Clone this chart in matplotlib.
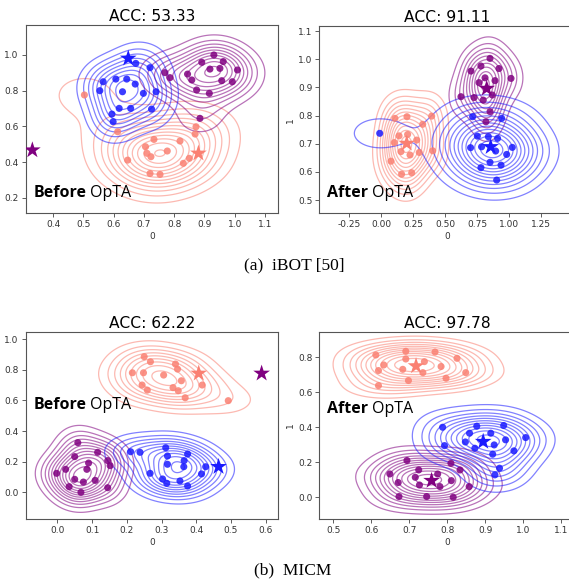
import numpy as np
import matplotlib
matplotlib.use('Agg')
import matplotlib.pyplot as plt
from matplotlib.ticker import MaxNLocator

BLUE = '#1a1aff'
PURPLE = '#800080'
SALMON = '#fa8072'

# ---- (a) iBOT, before OpTA ----
a_before_blue_x = [0.673, 0.565, 0.607, 0.643, 0.671, 0.720, 0.740, 0.698, 0.629, 0.554, 0.618, 0.656, 0.725, 0.594, 0.598]
a_before_blue_y = [0.953, 0.850, 0.865, 0.865, 0.837, 0.929, 0.794, 0.785, 0.794, 0.800, 0.701, 0.701, 0.697, 0.669, 0.626]
a_before_purple_x = [0.931, 0.891, 0.962, 0.918, 0.951, 1.009, 0.769, 0.786, 0.844, 0.858, 0.957, 0.992, 0.874, 0.916, 0.885]
a_before_purple_y = [1.000, 0.959, 0.963, 0.921, 0.925, 0.916, 0.901, 0.873, 0.893, 0.860, 0.856, 0.850, 0.804, 0.785, 0.645]
a_before_salmon_x = [0.503, 0.613, 0.872, 0.869, 0.733, 0.705, 0.819, 0.710, 0.723, 0.777, 0.850, 0.830, 0.646, 0.720, 0.753]
a_before_salmon_y = [0.776, 0.570, 0.598, 0.557, 0.527, 0.486, 0.518, 0.449, 0.430, 0.462, 0.421, 0.393, 0.411, 0.336, 0.331]
a_before_stars = {BLUE: (0.648, 0.981), PURPLE: (0.331, 0.467), SALMON: (0.880, 0.449)}

# ---- (a) iBOT, after OpTA ----
a_after_blue_x = [-0.010, 0.716, 0.943, 0.753, 0.839, 0.911, 0.700, 0.786, 0.896, 0.982, 1.026, 0.781, 0.852, 0.938, 0.904]
a_after_blue_y = [0.737, 0.796, 0.790, 0.727, 0.725, 0.719, 0.686, 0.689, 0.674, 0.662, 0.687, 0.615, 0.634, 0.624, 0.571]
a_after_purple_x = [0.852, 0.781, 0.703, 0.922, 1.016, 0.813, 0.766, 0.891, 0.625, 0.727, 0.799, 0.870, 0.852, 0.820, 0.826]
a_after_purple_y = [1.003, 0.976, 0.958, 0.967, 0.932, 0.934, 0.917, 0.924, 0.867, 0.864, 0.855, 0.873, 0.814, 0.778, 0.896]
a_after_salmon_x = [0.109, 0.203, 0.396, 0.326, 0.141, 0.208, 0.104, 0.279, 0.156, 0.227, 0.299, 0.404, 0.078, 0.161, 0.240]
a_after_salmon_y = [0.790, 0.796, 0.798, 0.769, 0.728, 0.733, 0.704, 0.713, 0.672, 0.660, 0.669, 0.675, 0.638, 0.592, 0.597]
a_after_stars = {BLUE: (0.857, 0.689), PURPLE: (0.826, 0.896), SALMON: (0.201, 0.701)}

# ---- (b) MICM, before OpTA ----
b_before_salmon_x = [0.250, 0.268, 0.216, 0.248, 0.340, 0.346, 0.306, 0.357, 0.244, 0.259, 0.333, 0.348, 0.368, 0.417, 0.492]
b_before_salmon_y = [0.885, 0.852, 0.780, 0.780, 0.837, 0.804, 0.765, 0.728, 0.700, 0.667, 0.683, 0.663, 0.617, 0.700, 0.598]
b_before_purple_x = [0.059, 0.050, 0.116, 0.090, 0.145, 0.152, -0.002, 0.024, 0.050, 0.075, 0.109, 0.034, 0.068, 0.145, 0.085]
b_before_purple_y = [0.324, 0.233, 0.261, 0.191, 0.207, 0.174, 0.124, 0.150, 0.085, 0.067, 0.078, 0.037, 0.000, 0.030, 0.150]
b_before_blue_x = [0.211, 0.238, 0.312, 0.317, 0.375, 0.317, 0.365, 0.364, 0.427, 0.267, 0.303, 0.315, 0.353, 0.415, 0.375]
b_before_blue_y = [0.265, 0.261, 0.291, 0.237, 0.250, 0.183, 0.207, 0.167, 0.167, 0.124, 0.087, 0.059, 0.074, 0.120, 0.041]
b_before_stars = {SALMON: (0.407, 0.776), PURPLE: (0.588, 0.776), BLUE: (0.464, 0.167)}

# ---- (b) MICM, after OpTA ----
b_after_salmon_x = [0.612, 0.691, 0.768, 0.826, 0.633, 0.619, 0.691, 0.740, 0.683, 0.736, 0.784, 0.849, 0.797, 0.698, 0.619]
b_after_salmon_y = [0.813, 0.834, 0.830, 0.794, 0.756, 0.724, 0.790, 0.775, 0.731, 0.712, 0.747, 0.712, 0.680, 0.667, 0.638]
b_after_blue_x = [0.788, 0.878, 0.949, 0.859, 0.915, 0.848, 0.954, 1.007, 0.793, 0.873, 0.924, 0.976, 0.920, 0.938, 0.926]
b_after_blue_y = [0.400, 0.406, 0.410, 0.366, 0.366, 0.316, 0.328, 0.341, 0.295, 0.280, 0.299, 0.265, 0.246, 0.166, 0.128]
b_after_purple_x = [0.694, 0.810, 0.725, 0.834, 0.649, 0.716, 0.775, 0.671, 0.727, 0.781, 0.811, 0.858, 0.673, 0.746, 0.816]
b_after_purple_y = [0.210, 0.194, 0.156, 0.156, 0.133, 0.114, 0.133, 0.084, 0.070, 0.061, 0.095, 0.061, 0.004, 0.004, 0.000]
b_after_stars = {SALMON: (0.718, 0.750), BLUE: (0.895, 0.318), PURPLE: (0.759, 0.095)}

W, H = 569, 581
fig = plt.figure(figsize=(W / 100, H / 100), dpi=100)


def px_axes(l, r, t, b):
    return fig.add_axes([l / W, 1 - b / H, (r - l) / W, (b - t) / H])


def kde_contour(ax, xs, ys, col, bw=1.35, nlev=13):
    # product gaussian kernel, one bandwidth per axis (scott factor)
    xs = np.asarray(xs)
    ys = np.asarray(ys)
    n = len(xs)
    fac = n ** (-1.0 / 6) * bw
    hx = fac * xs.std(ddof=1)
    hy = fac * ys.std(ddof=1)
    x0, x1 = ax.get_xlim()
    y0, y1 = ax.get_ylim()
    gx = np.linspace(x0, x1, 260)
    gy = np.linspace(y0, y1, 260)
    xx, yy = np.meshgrid(gx, gy)
    dx = (xx[..., None] - xs) / hx
    dy = (yy[..., None] - ys) / hy
    z = np.exp(-0.5 * (dx * dx + dy * dy)).sum(-1) / (n * 2 * np.pi * hx * hy)
    lev = MaxNLocator(nlev + 1).tick_values(0, z.max())
    lev = lev[(lev > 0) & (lev < z.max())]
    ax.contour(xx, yy, z, levels=lev, colors=[col], alpha=0.55, linewidths=0.9)


panels = [
    dict(box=(25.7, 278.3, 25, 213.3), title='ACC: 53.33', xlim=(0.309, 1.144), ylim=(0.113, 1.168),
         xt=np.arange(0.4, 1.15, 0.1), yt=np.arange(0.2, 1.05, 0.2), ylab=False, fmt='{:.1f}',
         groups=[(SALMON, a_before_salmon_x, a_before_salmon_y), (PURPLE, a_before_purple_x, a_before_purple_y),
                 (BLUE, a_before_blue_x, a_before_blue_y)],
         stars=a_before_stars, word='Before', txt=(0.03, 0.065)),
    dict(box=(319.3, 575, 26, 213.3), title='ACC: 91.11', xlim=(-0.482, 1.516), ylim=(0.453, 1.118),
         xt=np.arange(-0.25, 1.3, 0.25), yt=np.arange(0.5, 1.15, 0.1), ylab=True, fmt='{:.2f}',
         groups=[(SALMON, a_after_salmon_x, a_after_salmon_y), (PURPLE, a_after_purple_x, a_after_purple_y),
                 (BLUE, a_after_blue_x, a_after_blue_y)],
         stars=a_after_stars, word='After', txt=(0.03, 0.065)),
    dict(box=(25.7, 278.3, 331.7, 519.3), title='ACC: 62.22', xlim=(-0.091, 0.636), ylim=(-0.176, 1.048),
         xt=np.arange(0.0, 0.65, 0.1), yt=np.arange(0.0, 1.05, 0.2), ylab=False, fmt='{:.1f}',
         groups=[(SALMON, b_before_salmon_x, b_before_salmon_y), (PURPLE, b_before_purple_x, b_before_purple_y),
                 (BLUE, b_before_blue_x, b_before_blue_y)],
         stars=b_before_stars, word='Before', txt=(0.03, 0.565)),
    dict(box=(319.3, 575, 331.7, 519.3), title='ACC: 97.78', xlim=(0.463, 1.137), ylim=(-0.126, 0.946),
         xt=np.arange(0.5, 1.15, 0.1), yt=np.arange(0.0, 0.85, 0.2), ylab=True, fmt='{:.1f}',
         groups=[(SALMON, b_after_salmon_x, b_after_salmon_y), (PURPLE, b_after_purple_x, b_after_purple_y),
                 (BLUE, b_after_blue_x, b_after_blue_y)],
         stars=b_after_stars, word='After', txt=(0.03, 0.545)),
]

for p in panels:
    ax = px_axes(*p['box'])
    ax.set_xlim(p['xlim'])
    ax.set_ylim(p['ylim'])
    for col, xs, ys in p['groups']:
        kde_contour(ax, xs, ys, col)
    for col, xs, ys in p['groups']:
        ax.scatter(xs, ys, s=26, color=col, alpha=0.85, edgecolors='none', zorder=3)
    for col, (sx, sy) in p['stars'].items():
        ax.scatter([sx], [sy], s=160, marker='*', color=col, edgecolors='none', zorder=4)
    ax.set_xlim(p['xlim'])
    ax.set_ylim(p['ylim'])
    ax.set_xticks(p['xt'])
    ax.set_yticks(p['yt'])
    ax.set_xticklabels([p['fmt'].format(v) for v in p['xt']])
    ax.set_yticklabels(['{:.1f}'.format(v) for v in p['yt']])
    ax.tick_params(labelsize=6.5, length=3, width=0.6, colors='#444444', labelcolor='#333333', pad=2)
    for s in ax.spines.values():
        s.set_color('#555555')
        s.set_linewidth(0.8)
    ax.set_xlabel('0', fontsize=6.5, color='#333333', labelpad=2)
    if p['ylab']:
        ax.set_ylabel('1', fontsize=6.5, color='#333333', labelpad=2)
    ax.set_title(p['title'], fontsize=11.2, pad=3)
    t = ax.text(p['txt'][0], p['txt'][1], p['word'], transform=ax.transAxes, fontsize=11.5,
                fontweight='bold', family='Open Sans', va='bottom', ha='left', zorder=5)
    ax.annotate('OpTA', xy=(1, 0), xycoords=t, xytext=(3, 0), textcoords='offset points',
                fontsize=11.5, family='Open Sans', va='bottom', ha='left', zorder=5)

fig.text(294 / W, 1 - 265 / H, '(a)  iBOT [50]', fontsize=12.5, family='Liberation Serif', ha='center', va='center')
fig.text(293 / W, 1 - 570 / H, '(b)  MICM', fontsize=12.5, family='Liberation Serif', ha='center', va='center')

fig.savefig('out.png', dpi=100)
